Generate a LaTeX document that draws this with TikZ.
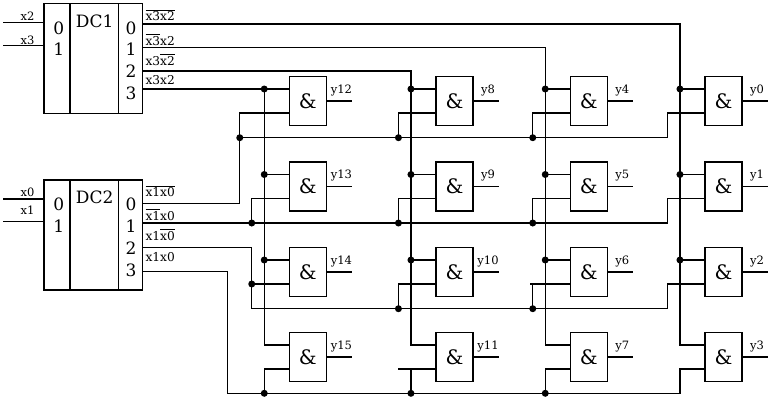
\documentclass[tikz,border=0pt]{standalone}
\usepackage{fontspec}
\setmainfont{DejaVu Serif}
\usetikzlibrary{calc}
\newcommand\ovl[1]{$\overline{\hbox{#1}}$}
\tikzset{
	gate/.style={draw,minimum width=37pt,minimum height=49pt,inner sep=0pt,font=\fontsize{20}{20}\selectfont},
	jdot/.style={circle,fill,inner sep=0pt,minimum size=7pt},
	lbl/.style={inner sep=0pt,font=\fontsize{11.5}{12}\selectfont},
	olbl/.style={inner sep=0pt,font=\fontsize{12.2}{13}\selectfont},
	numf/.style={inner sep=0pt,font=\fontsize{17}{17}\selectfont}
}
\begin{document}
\begin{tikzpicture}[x=1pt,y=-1pt,line width=1.1pt]
	\useasboundingbox(0,0)rectangle(773,400);
	\foreach \d/\t in{1/0,2/176.7}{
		\draw(44,3.3+\t)rectangle(142.3,113.3+\t)(70,3.3+\t)--(70,113.3+\t)(118.3,3.3+\t)--(118.3,113.3+\t);
		\node[numf,anchor=base](dc\d)at(94.7,27+\t){DC\d};
		\foreach \i in{0,1}{
			\node[numf,anchor=base](l\d-\i)at(58.8,34+21.9*\i+\t){\i};
		}
		\foreach \i in{0,...,3}{
			\node[numf,anchor=base](r\d-\i)at(131,34+21.9*\i+\t){\i};
		}
	}
	\foreach \n/\y/\ly in{x2/22.7/20.5,x3/45.7/44,x0/199/196,x1/221.7/214.5}{
		\coordinate(\n)at(44,\y);
		\draw(3.3,\y)--(\n);
		\node[lbl,anchor=base east](t\n)at(35,\ly){\n};
	}
	\foreach \i/\y in{0/24,1/47.7,2/71,3/89}{\coordinate(a\i)at(142.3,\y);}
	\foreach \i/\y in{0/203.3,1/223,2/247.5,3/271.7}{\coordinate(b\i)at(142.3,\y);}
	\foreach \i/\y/\s in{0/20.7/{\ovl{x3}\ovl{x2}},1/45/{\ovl{x3}x2},2/65/{x3\ovl{x2}},3/84/{x3x2}}{
		\node[olbl,anchor=base west](la\i)at(145,\y){\s};
	}
	\foreach \i/\y/\s in{0/196.7/{\ovl{x1}\ovl{x0}},1/220/{\ovl{x1}x0},2/240/{x1\ovl{x0}},3/261.7/{x1x0}}{
		\node[olbl,anchor=base west](lb\i)at(145,\y){\s};
	}
	\foreach \c/\x in{0/307.8,1/454.5,2/588.8,3/723.5}{
		\foreach \r/\y in{0/101,1/186.5,2/272,3/357}{
			\pgfmathtruncatemacro\n{4*(3-\c)+\r}
			\node[gate](g\n)at(\x,\y){\&};
			\coordinate(g\n-a)at($(g\n.west)+(0,-12)$);
			\coordinate(g\n-b)at($(g\n.west)+(0,12)$);
			\draw(g\n.east)--++(25,0);
			\node[lbl,anchor=base](y\n)at($(g\n.east)+(14.5,-8)$){y\n};
		}
	}
	\foreach \c/\k in{0/3,1/2,2/1,3/0}{
		\pgfmathtruncatemacro\m{4*(3-\c)}
		\pgfmathtruncatemacro\q{\m+3}
		\draw(a\k)-|($(g\q-a)+(-24.5,0)$)--(g\q-a);
		\foreach \r in{0,1,2}{
			\pgfmathtruncatemacro\n{\m+\r}
			\draw($(g\n-a)+(-24.5,0)$)node[jdot]{}--(g\n-a);
		}
	}
	\draw(b0)-|($(g12-b)+(-49,0)$)--(g12-b);
	\draw($(g12-b)+(-49,24.7)$)node[jdot]{}-|($(g0-b)+(-37,0)$)--(g0-b);
	\foreach \n in{8,4}{\draw(g\n-b)-|($(g\n-b)+(-37,24.7)$)node[jdot]{};}
	\draw(b1)-|($(g1-b)+(-37,0)$)--(g1-b);
	\foreach \n in{13,9,5}{\draw(g\n-b)-|($(g\n-b)+(-37,24.5)$)node[jdot]{};}
	\draw(b2)-|($(g14-b)+(-37,24.7)$)-|($(g2-b)+(-37,0)$)--(g2-b);
	\draw($(g14-b)+(-37,0)$)node[jdot]{}--(g14-b);
	\foreach \n in{10,6}{\draw(g\n-b)-|($(g\n-b)+(-37,24.7)$)node[jdot]{};}
	\draw(g6-b)--++(-40,0);
	\draw(b3)-|($(g15-b)+(-61,24.3)$)-|($(g3-b)+(-24.5,0)$)--(g3-b);
	\foreach \n in{15,11,7}{\draw(g\n-b)-|($(g\n-b)+(-24.5,24.3)$)node[jdot]{};}
	\draw(g11-b)--++(-37,0);
\end{tikzpicture}
\end{document}
